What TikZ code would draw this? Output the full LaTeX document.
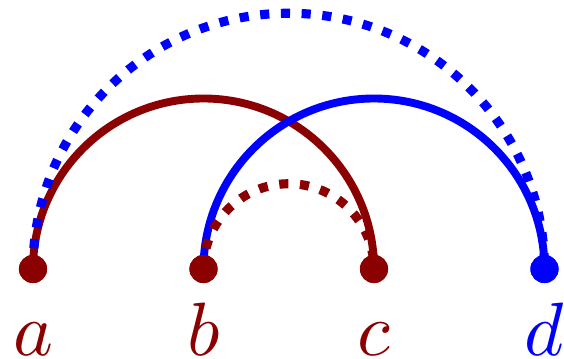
\documentclass[tikz,border=0pt]{standalone}
\definecolor{arcred}{rgb}{0.545,0,0}
\definecolor{arcblue}{rgb}{0,0,1}
\begin{document}
\begin{tikzpicture}[x=0.02cm, y=0.02cm,
  vtx/.style={circle, fill=#1, inner sep=0pt, minimum size=16pt},
  lbl/.style={text=#1, anchor=base, inner sep=0pt, scale=4.3},
  solidarc/.style={draw=#1, line width=4.5pt},
  dotarc/.style={draw=#1, line width=5.2pt, dash pattern=on 5.2pt off 6.6pt}]
\useasboundingbox (0,0) rectangle (564,358);

\node[vtx=arcred]  (a) at (33,89) {};
\node[vtx=arcred]  (b) at (203.5,89) {};
\node[vtx=arcred]  (c) at (374,89) {};
\node[vtx=arcblue] (d) at (544.5,89) {};

\path[solidarc=arcred]  (a.center) arc[start angle=180, end angle=0, radius=170.5];
\path[solidarc=arcblue] (b.center) arc[start angle=180, end angle=0, radius=170.5];
\path[dotarc=arcred]    (b.center) arc[start angle=180, end angle=0, radius=85.25];
\path[dotarc=arcblue]   (a.center) arc[start angle=180, end angle=0, radius=255.75];

% dots again on top
\node[vtx=arcred]  at (a) {};
\node[vtx=arcred]  at (b) {};
\node[vtx=arcred]  at (c) {};
\node[vtx=arcblue] at (d) {};

\node[lbl=arcred]  (la) at (33,3) {$a$};
\node[lbl=arcred]  (lb) at (203.5,3) {$b$};
\node[lbl=arcred]  (lc) at (374,3) {$c$};
\node[lbl=arcblue] (ld) at (544.5,3) {$d$};
\end{tikzpicture}
\end{document}
